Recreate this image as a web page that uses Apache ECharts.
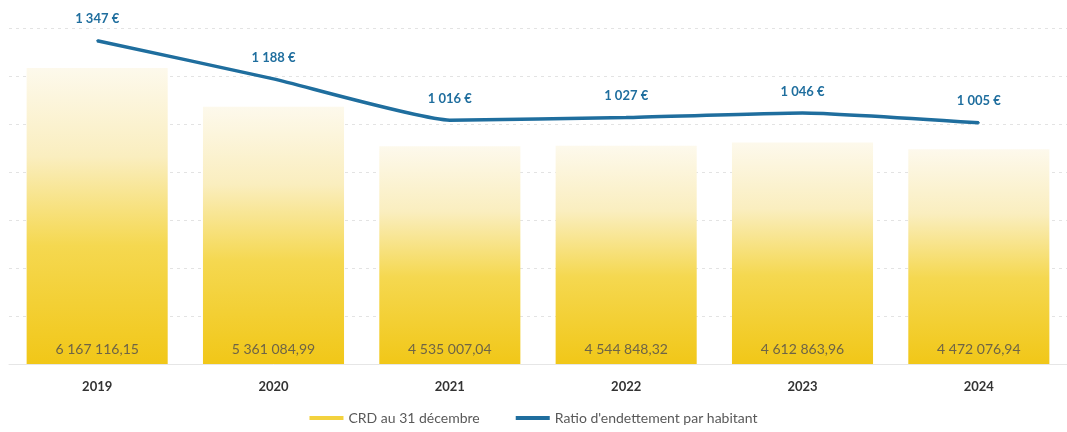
<!DOCTYPE html>
<html>
<head>
<meta charset="utf-8">
<title>CRD et ratio d'endettement</title>
<script src="https://cdn.jsdelivr.net/npm/echarts@6/dist/echarts.min.js"></script>
<style>
  html, body { margin: 0; padding: 0; background: #ffffff; }
  #chart { width: 1067px; height: 432px; }
</style>
</head>
<body>
<div id="chart"></div>
<script>
// Years shown on the category axis
const years = ['2019', '2020', '2021', '2022', '2023', '2024'];
// Capital restant dû au 31 décembre (€)
const crd = [6167116.15, 5361084.99, 4535007.04, 4544848.32, 4612863.96, 4472076.94];
// Dette par habitant (€)
const ratio = [1347, 1188, 1016, 1027, 1046, 1005];

const FONT = 'Lato, "Open Sans", "Liberation Sans", sans-serif';
const BLUE = '#1f6e9e';

// French number formatting: spaces for thousands, comma decimals
function frNumber(v, decimals) {
  const parts = v.toFixed(decimals).split('.');
  const intPart = parts[0].replace(/\B(?=(\d{3})+(?!\d))/g, ' ');
  return parts.length > 1 ? intPart + ',' + parts[1] : intPart;
}

const barGradient = new echarts.graphic.LinearGradient(0, 0, 0, 1, [
  { offset: 0, color: '#fdf9ec' },
  { offset: 0.3, color: '#faeebf' },
  { offset: 0.6, color: '#f5d850' },
  { offset: 1, color: '#f1c718' }
]);

const chart = echarts.init(document.getElementById('chart'), null, { renderer: 'canvas' });

chart.setOption({
  animation: false,
  backgroundColor: '#ffffff',
  grid: { left: 9, width: 1071, top: 28, height: 336, containLabel: false },
  legend: {
    bottom: 2,
    left: 'center',
    itemGap: 36,
    itemWidth: 34,
    itemHeight: 4,
    textStyle: { fontFamily: FONT, fontSize: 14, color: '#595959' },
    data: [
      { name: 'CRD au 31 décembre', icon: 'rect', itemStyle: { color: '#f3d23e' } },
      { name: "Ratio d'endettement par habitant", icon: 'rect', itemStyle: { color: BLUE, opacity: 1 } }
    ]
  },
  xAxis: {
    type: 'category',
    data: years,
    axisLine: { show: true, lineStyle: { color: '#e6e6e6', width: 1 } },
    axisTick: { show: false },
    axisLabel: {
      margin: 16,
      fontFamily: FONT,
      fontSize: 13,
      fontWeight: 'bold',
      color: '#333333'
    }
  },
  yAxis: [
    {
      type: 'value',
      min: 0,
      max: 7000000,
      interval: 1000000,
      axisLabel: { show: false },
      axisLine: { show: false },
      axisTick: { show: false },
      splitLine: { show: true, lineStyle: { color: '#e3e3e3', type: [3, 4], width: 1 } }
    },
    {
      type: 'value',
      min: 0,
      max: 1400,
      interval: 200,
      axisLabel: { show: false },
      axisLine: { show: false },
      axisTick: { show: false },
      splitLine: { show: false }
    }
  ],
  series: [
    {
      name: 'CRD au 31 décembre',
      type: 'bar',
      yAxisIndex: 0,
      barWidth: '80%',
      data: crd,
      itemStyle: { color: barGradient },
      label: {
        show: true,
        position: 'insideBottom',
        distance: 8,
        fontFamily: FONT,
        fontSize: 14,
        color: '#6e6446',
        formatter: p => frNumber(p.value, 2)
      },
      z: 2
    },
    {
      name: "Ratio d'endettement par habitant",
      type: 'line',
      yAxisIndex: 1,
      data: ratio,
      smooth: 0.15,
      symbol: 'circle',
      symbolSize: 2,
      showSymbol: true,
      lineStyle: { color: BLUE, width: 3.5 },
      itemStyle: { color: BLUE },
      label: {
        show: true,
        position: 'top',
        distance: 14,
        fontFamily: FONT,
        fontSize: 13,
        fontWeight: 'bold',
        color: BLUE,
        formatter: p => frNumber(p.value, 0) + ' €'
      },
      z: 5
    }
  ]
});
</script>
</body>
</html>
